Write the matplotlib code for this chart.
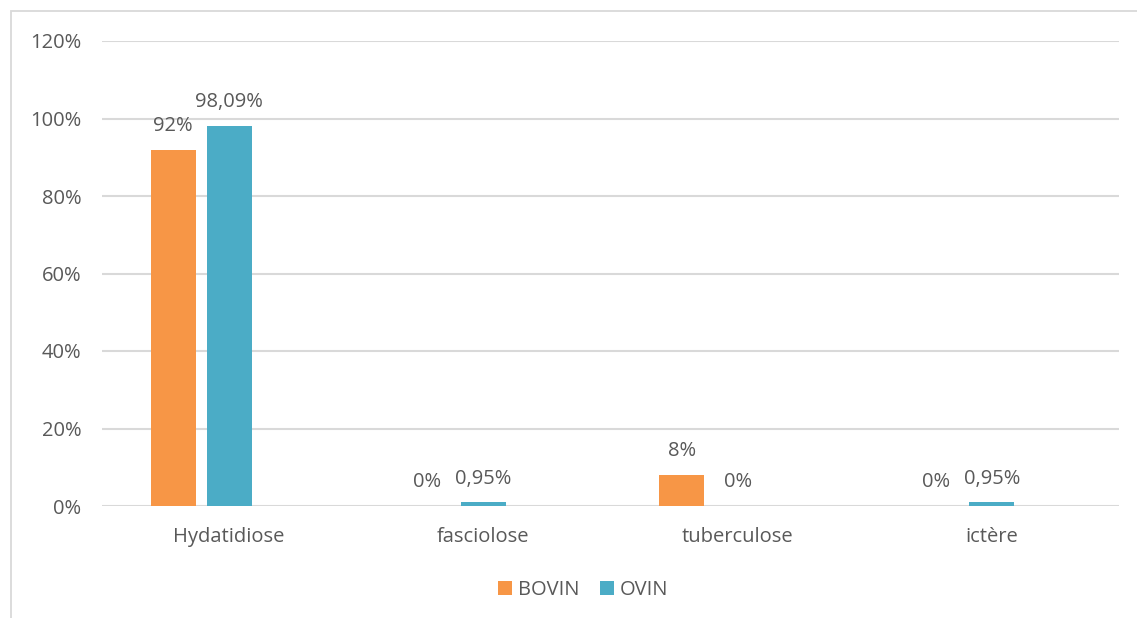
import matplotlib
matplotlib.use("Agg")
import matplotlib.pyplot as plt
from matplotlib.patches import Rectangle
import numpy as np

categories = ["Hydatidiose", "fasciolose", "tuberculose", "ictère"]
bovin = [0.92, 0.0, 0.08, 0.0]
ovin = [0.9809, 0.0095, 0.0, 0.0095]
bovin_labels = ["92%", "0%", "8%", "0%"]
ovin_labels = ["98,09%", "0,95%", "0%", "0,95%"]
yticks = [0, 0.2, 0.4, 0.6, 0.8, 1.0, 1.2]
ytick_labels = ["0%", "20%", "40%", "60%", "80%", "100%", "120%"]

plt.rcParams['font.family'] = ['Open Sans', 'DejaVu Sans']
TXT = "#595959"
GRID = "#d9d9d9"
C_BOV = "#F79646"
C_OVI = "#4BACC6"

W, H = 1137, 618
fig = plt.figure(figsize=(W / 100, H / 100), dpi=100)
ax = fig.add_axes([102 / W, (H - 506) / H, (1119 - 102) / W, (506 - 41) / H])

x = np.arange(len(categories))
bw = 45 / 254
off = 56 / 254
b1 = ax.bar(x - off, bovin, width=bw, color=C_BOV, label="BOVIN", zorder=3)
b2 = ax.bar(x, ovin, width=bw, color=C_OVI, label="OVIN", zorder=3)

fs = 14.5
for bars, labs in ((b1, bovin_labels), (b2, ovin_labels)):
    for r, lab in zip(bars, labs):
        ax.annotate(lab, (r.get_x() + r.get_width() / 2, r.get_height()),
                    xytext=(0, 17), textcoords="offset points",
                    ha="center", va="center", fontsize=fs, color=TXT)

ax.set_xlim(-0.5, len(categories) - 0.5)
ax.set_ylim(0, 1.2)
ax.set_yticks(yticks)
ax.set_yticklabels(ytick_labels)
ax.set_xticks(x)
ax.set_xticklabels(categories)
ax.tick_params(axis="both", length=0, labelsize=fs, colors=TXT)
ax.tick_params(axis="y", pad=15)
ax.tick_params(axis="x", pad=15)
ax.yaxis.grid(True, color=GRID, linewidth=1.5, zorder=0)
for s in ax.spines.values():
    s.set_visible(False)

fig.legend(handles=[b1, b2], labels=["BOVIN", "OVIN"], loc="center",
           bbox_to_anchor=(583 / W, (H - 590) / H), ncol=2, frameon=False,
           fontsize=fs, labelcolor=TXT, handlelength=0.7, handleheight=0.7,
           handletextpad=0.3, columnspacing=1.0)

fig.patches.append(Rectangle((10.5 / W, -0.1), 1.5, (H - 11.5) / H + 0.1,
                             transform=fig.transFigure, fill=False,
                             edgecolor=GRID, linewidth=1.3, clip_on=False))

fig.savefig("out.png", dpi=100, facecolor="white")
